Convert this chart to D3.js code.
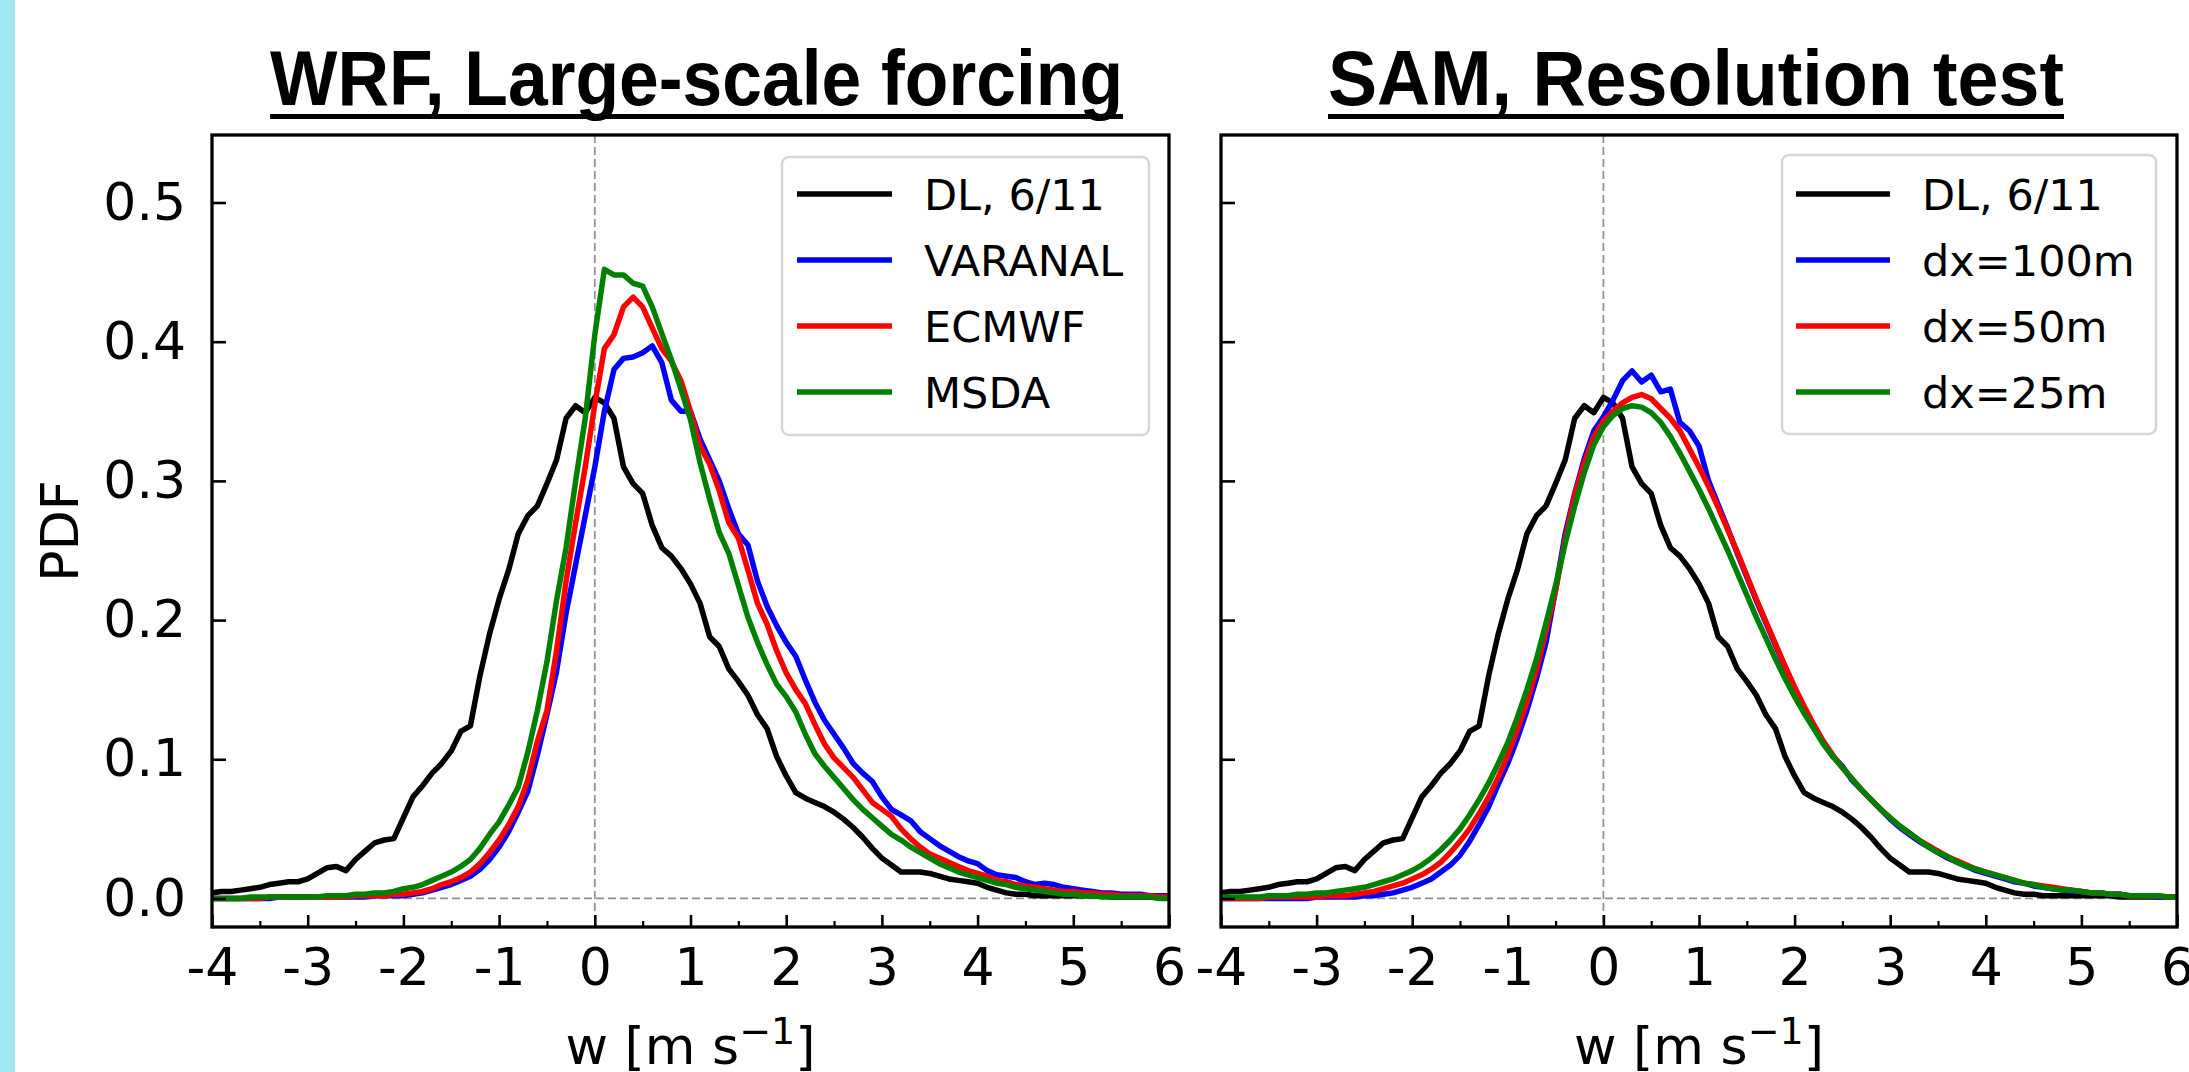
<!DOCTYPE html>
<html>
<head>
<meta charset="utf-8">
<script src="https://cdn.jsdelivr.net/npm/d3@7"></script>
<style>
  html, body { margin: 0; padding: 0; background: #fff; }
  svg { display: block; }
</style>
</head>
<body>
<svg id="chart" width="2189" height="1072"></svg>
<script>
// ---------------- DATA ----------------
const wBins = [
  -4.0,-3.9,-3.8,-3.7,-3.6,-3.5,-3.4,-3.3,-3.2,-3.1,
  -3.0,-2.9,-2.8,-2.7,-2.6,-2.5,-2.4,-2.3,-2.2,-2.1,
  -2.0,-1.9,-1.8,-1.7,-1.6,-1.5,-1.4,-1.3,-1.2,-1.1,
  -1.0,-0.9,-0.8,-0.7,-0.6,-0.5,-0.4,-0.3,-0.2,-0.1,
   0.0, 0.1, 0.2, 0.3, 0.4, 0.5, 0.6, 0.7, 0.8, 0.9,
   1.0, 1.1, 1.2, 1.3, 1.4, 1.5, 1.6, 1.7, 1.8, 1.9,
   2.0, 2.1, 2.2, 2.3, 2.4, 2.5, 2.6, 2.7, 2.8, 2.9,
   3.0, 3.1, 3.2, 3.3, 3.4, 3.5, 3.6, 3.7, 3.8, 3.9,
   4.0, 4.1, 4.2, 4.3, 4.4, 4.5, 4.6, 4.7, 4.8, 4.9,
   5.0, 5.1, 5.2, 5.3, 5.4, 5.5, 5.6, 5.7, 5.8, 5.9,
   6.0
];

const dl = [
  0.004,0.005,0.005,0.006,0.007,0.008,0.010,0.011,0.012,0.012,
  0.014,0.018,0.022,0.023,0.020,0.028,0.034,0.040,0.042,0.043,
  0.058,0.073,0.081,0.090,0.097,0.106,0.120,0.124,0.160,0.190,
  0.215,0.236,0.262,0.275,0.282,0.298,0.315,0.345,0.354,0.349,
  0.360,0.356,0.345,0.310,0.298,0.291,0.268,0.252,0.246,0.237,
  0.226,0.212,0.188,0.181,0.165,0.156,0.146,0.132,0.122,0.102,
  0.088,0.076,0.072,0.069,0.066,0.062,0.057,0.051,0.044,0.036,
  0.029,0.024,0.019,0.019,0.019,0.018,0.016,0.014,0.013,0.012,
  0.011,0.008,0.006,0.004,0.003,0.003,0.002,0.002,0.002,0.002,
  0.002,0.002,0.002,0.002,0.001,0.001,0.001,0.001,0.001,0.001,
  0.001
];

const varanal = [
  0.000,0.000,0.000,0.000,0.000,0.000,0.000,0.001,0.001,0.001,
  0.001,0.001,0.001,0.001,0.001,0.001,0.001,0.002,0.002,0.002,
  0.002,0.003,0.004,0.006,0.008,0.010,0.013,0.016,0.021,0.028,
  0.037,0.048,0.062,0.077,0.103,0.132,0.163,0.205,0.240,0.275,
  0.310,0.350,0.380,0.388,0.389,0.392,0.397,0.385,0.358,0.350,
  0.350,0.330,0.315,0.300,0.280,0.262,0.254,0.228,0.210,0.196,
  0.184,0.174,0.157,0.141,0.128,0.118,0.108,0.097,0.090,0.084,
  0.073,0.064,0.060,0.056,0.048,0.043,0.038,0.034,0.030,0.027,
  0.025,0.020,0.017,0.016,0.015,0.012,0.010,0.011,0.010,0.008,
  0.007,0.006,0.005,0.004,0.004,0.003,0.003,0.003,0.002,0.002,
  0.002
];

const ecmwf = [
  0.000,0.000,0.000,0.000,0.000,0.000,0.001,0.001,0.001,0.001,
  0.001,0.001,0.001,0.001,0.001,0.002,0.002,0.002,0.002,0.003,
  0.003,0.004,0.005,0.007,0.010,0.012,0.015,0.019,0.025,0.033,
  0.042,0.053,0.066,0.085,0.113,0.135,0.178,0.228,0.270,0.310,
  0.355,0.395,0.405,0.425,0.432,0.425,0.410,0.395,0.386,0.372,
  0.350,0.325,0.312,0.293,0.270,0.259,0.236,0.212,0.197,0.178,
  0.162,0.150,0.140,0.125,0.111,0.101,0.094,0.087,0.078,0.069,
  0.064,0.059,0.050,0.043,0.037,0.032,0.029,0.026,0.023,0.020,
  0.018,0.016,0.013,0.012,0.010,0.009,0.008,0.007,0.006,0.005,
  0.005,0.004,0.004,0.003,0.003,0.002,0.002,0.002,0.002,0.001,
  0.001
];

const msda = [
  0.000,0.000,0.000,0.000,0.001,0.001,0.001,0.001,0.001,0.001,
  0.001,0.001,0.002,0.002,0.002,0.003,0.003,0.004,0.004,0.005,
  0.007,0.008,0.010,0.013,0.016,0.019,0.023,0.028,0.036,0.046,
  0.055,0.067,0.080,0.105,0.135,0.170,0.214,0.252,0.300,0.345,
  0.405,0.452,0.448,0.448,0.442,0.440,0.425,0.406,0.387,0.366,
  0.344,0.313,0.287,0.263,0.248,0.225,0.202,0.184,0.168,0.154,
  0.145,0.134,0.118,0.104,0.095,0.087,0.079,0.071,0.064,0.058,
  0.052,0.046,0.042,0.037,0.033,0.029,0.025,0.022,0.019,0.017,
  0.015,0.013,0.011,0.010,0.008,0.007,0.006,0.005,0.004,0.003,
  0.003,0.002,0.002,0.001,0.001,0.001,0.001,0.001,0.001,0.000,
  0.000
];

const dx100 = [
  0.000,0.000,0.000,0.000,0.000,0.000,0.000,0.000,0.000,0.000,
  0.001,0.001,0.001,0.001,0.001,0.002,0.002,0.003,0.004,0.006,
  0.008,0.011,0.014,0.019,0.024,0.031,0.041,0.053,0.066,0.082,
  0.097,0.115,0.135,0.158,0.184,0.222,0.262,0.291,0.316,0.336,
  0.346,0.358,0.372,0.379,0.371,0.376,0.364,0.366,0.342,0.336,
  0.325,0.300,0.283,0.266,0.248,0.231,0.214,0.198,0.182,0.166,
  0.151,0.137,0.124,0.112,0.102,0.095,0.085,0.078,0.071,0.064,
  0.057,0.051,0.046,0.041,0.037,0.033,0.029,0.026,0.023,0.020,
  0.018,0.016,0.014,0.012,0.011,0.009,0.008,0.007,0.006,0.005,
  0.005,0.004,0.004,0.003,0.003,0.002,0.002,0.002,0.001,0.001,
  0.001
];

const dx50 = [
  0.000,0.000,0.000,0.000,0.000,0.001,0.001,0.001,0.001,0.001,
  0.001,0.002,0.002,0.002,0.003,0.004,0.005,0.007,0.009,0.011,
  0.014,0.017,0.021,0.026,0.033,0.041,0.050,0.061,0.073,0.087,
  0.103,0.121,0.141,0.164,0.192,0.221,0.258,0.290,0.313,0.332,
  0.343,0.350,0.356,0.360,0.362,0.359,0.352,0.345,0.336,0.323,
  0.310,0.296,0.281,0.265,0.249,0.232,0.215,0.199,0.183,0.167,
  0.152,0.138,0.125,0.113,0.103,0.094,0.086,0.078,0.071,0.064,
  0.058,0.052,0.047,0.042,0.038,0.034,0.030,0.027,0.024,0.021,
  0.019,0.017,0.015,0.013,0.011,0.010,0.009,0.008,0.007,0.006,
  0.005,0.004,0.004,0.003,0.003,0.002,0.002,0.002,0.002,0.001,
  0.001
];

const dx25 = [
  0.001,0.001,0.001,0.001,0.001,0.002,0.002,0.002,0.003,0.003,
  0.004,0.004,0.005,0.006,0.007,0.008,0.010,0.012,0.014,0.017,
  0.020,0.024,0.029,0.035,0.042,0.050,0.060,0.071,0.083,0.097,
  0.112,0.130,0.150,0.172,0.198,0.225,0.255,0.282,0.306,0.326,
  0.339,0.347,0.352,0.354,0.353,0.349,0.342,0.332,0.320,0.307,
  0.294,0.280,0.265,0.250,0.234,0.218,0.202,0.187,0.172,0.158,
  0.145,0.133,0.122,0.111,0.102,0.094,0.086,0.078,0.071,0.064,
  0.058,0.052,0.047,0.042,0.037,0.033,0.030,0.026,0.023,0.021,
  0.019,0.017,0.015,0.013,0.011,0.010,0.008,0.007,0.006,0.006,
  0.005,0.004,0.004,0.003,0.003,0.002,0.002,0.002,0.002,0.001,
  0.001
];

const xTicks = [-4, -3, -2, -1, 0, 1, 2, 3, 4, 5, 6];
const xMinorTicks = [-3.5, -2.5, -1.5, -0.5, 0.5, 1.5, 2.5, 3.5, 4.5, 5.5];
const yTicks = [0.0, 0.1, 0.2, 0.3, 0.4, 0.5];

const leftTitle = "WRF, Large-scale forcing";
const rightTitle = "SAM, Resolution test";
const leftLabels = ["DL, 6/11", "VARANAL", "ECMWF", "MSDA"];
const rightLabels = ["DL, 6/11", "dx=100m", "dx=50m", "dx=25m"];
const seriesColors = ["#000000", "#0000ff", "#ff0000", "#008000"];

// ---------------- LAYOUT ----------------
const svg = d3.select("#chart");
const FONT = "'DejaVu Sans', Verdana, sans-serif";
const TITLE_FONT = "'Liberation Sans Narrow', 'Liberation Sans', Arial, sans-serif";
const plotTop = 135, plotBottom = 927;
const LW = 5.5;

svg.append("rect").attr("x", 0).attr("y", 0).attr("width", 2189).attr("height", 1072).attr("fill", "#ffffff");
svg.append("rect").attr("x", 0).attr("y", 0).attr("width", 15).attr("height", 1072).attr("fill", "#a0e8ee");

const panels = [
  { x0: 212, x1: 1169, title: leftTitle, titleX: 270, titleW: 853,
    series: [dl, varanal, ecmwf, msda], labels: leftLabels, showY: true,
    legend: { x: 782, y: 157, w: 367, h: 278, lx0: 797, lx1: 892, tx: 924 } },
  { x0: 1221, x1: 2177, title: rightTitle, titleX: 1328, titleW: 736,
    series: [dl, dx100, dx50, dx25], labels: rightLabels, showY: false,
    legend: { x: 1782, y: 155, w: 374, h: 279, lx0: 1796, lx1: 1890, tx: 1922 } }
];
const legendRows = [194, 260, 326, 392];

panels.forEach((p, pi) => {
  const x = d3.scaleLinear().domain([-4, 6]).range([p.x0, p.x1]);
  const y = d3.scaleLinear().domain([-0.0205, 0.5485]).range([plotBottom, plotTop]);
  const g = svg.append("g");

  const clipId = "clip" + pi;
  svg.append("defs").append("clipPath").attr("id", clipId)
    .append("rect").attr("x", p.x0).attr("y", plotTop)
    .attr("width", p.x1 - p.x0).attr("height", plotBottom - plotTop);

  // zero reference lines
  g.append("line")
    .attr("x1", x(0)).attr("x2", x(0)).attr("y1", plotTop).attr("y2", plotBottom)
    .attr("stroke", "#8f8f8f").attr("stroke-width", 1.7).attr("stroke-dasharray", "8,4");
  g.append("line")
    .attr("x1", p.x0).attr("x2", p.x1).attr("y1", y(0)).attr("y2", y(0))
    .attr("stroke", "#8f8f8f").attr("stroke-width", 1.7).attr("stroke-dasharray", "8,4");

  // curves
  const line = d3.line().x((d, i) => x(wBins[i])).y(d => y(d));
  const curves = g.append("g").attr("clip-path", `url(#${clipId})`);
  p.series.forEach((s, si) => {
    curves.append("path")
      .datum(s)
      .attr("d", line)
      .attr("fill", "none")
      .attr("stroke", seriesColors[si])
      .attr("stroke-width", LW)
      .attr("stroke-linejoin", "round")
      .attr("stroke-linecap", "square");
  });

  // x axis major
  const xAxis = d3.axisBottom(x).tickValues(xTicks).tickSize(-12).tickPadding(21)
    .tickFormat(d => String(d));
  const gx = g.append("g").attr("transform", `translate(0,${plotBottom})`).call(xAxis);
  gx.select(".domain").remove();
  gx.selectAll(".tick line").attr("stroke", "#000").attr("stroke-width", 2.6);
  gx.selectAll(".tick text").attr("fill", "#000").style("font-family", FONT).style("font-size", "52px");

  // x axis minor
  const xMinor = d3.axisBottom(x).tickValues(xMinorTicks).tickSize(-6).tickFormat("");
  const gxm = g.append("g").attr("transform", `translate(0,${plotBottom})`).call(xMinor);
  gxm.select(".domain").remove();
  gxm.selectAll(".tick line").attr("stroke", "#000").attr("stroke-width", 2.2);

  // y axis
  const yAxis = d3.axisLeft(y).tickValues(yTicks).tickSize(-14).tickPadding(26)
    .tickFormat(p.showY ? d3.format(".1f") : "");
  const gy = g.append("g").attr("transform", `translate(${p.x0},0)`).call(yAxis);
  gy.select(".domain").remove();
  gy.selectAll(".tick line").attr("stroke", "#000").attr("stroke-width", 2.6);
  gy.selectAll(".tick text").attr("fill", "#000").style("font-family", FONT).style("font-size", "52px");

  // frame
  g.append("rect")
    .attr("x", p.x0).attr("y", plotTop)
    .attr("width", p.x1 - p.x0).attr("height", plotBottom - plotTop)
    .attr("fill", "none").attr("stroke", "#000").attr("stroke-width", 3.3);

  // x label
  const cx = (p.x0 + p.x1) / 2;
  const xl = g.append("text")
    .attr("x", cx).attr("y", 1064).attr("text-anchor", "middle")
    .style("font-family", FONT).style("font-size", "52px").attr("fill", "#000");
  xl.append("tspan").text("w [m s");
  xl.append("tspan").attr("dy", -20).style("font-size", "38px").text("\u22121");
  xl.append("tspan").attr("dy", 20).text("]");

  // legend
  const L = p.legend;
  const lg = g.append("g");
  lg.append("rect")
    .attr("x", L.x).attr("y", L.y).attr("width", L.w).attr("height", L.h)
    .attr("rx", 7).attr("ry", 7)
    .attr("fill", "#ffffff").attr("fill-opacity", 0.85)
    .attr("stroke", "#d6d6d6").attr("stroke-width", 2.5);
  p.labels.forEach((lab, i) => {
    lg.append("line")
      .attr("x1", L.lx0).attr("x2", L.lx1).attr("y1", legendRows[i]).attr("y2", legendRows[i])
      .attr("stroke", seriesColors[i]).attr("stroke-width", LW);
    lg.append("text")
      .attr("x", L.tx).attr("y", legendRows[i] + 16)
      .style("font-family", FONT).style("font-size", "43px").attr("fill", "#000")
      .text(lab);
  });

  // title with underline
  svg.append("text")
    .attr("x", p.titleX).attr("y", 105)
    .attr("textLength", p.titleW).attr("lengthAdjust", "spacingAndGlyphs")
    .style("font-family", TITLE_FONT).style("font-weight", "bold").style("font-size", "78px")
    .attr("fill", "#000")
    .text(p.title);
  svg.append("rect")
    .attr("x", p.titleX).attr("y", 114).attr("width", p.titleW).attr("height", 5)
    .attr("fill", "#000");
});

// y label
svg.append("text")
  .attr("transform", "translate(78,531) rotate(-90)")
  .attr("text-anchor", "middle")
  .style("font-family", FONT).style("font-size", "52px").attr("fill", "#000")
  .text("PDF");
</script>
</body>
</html>
